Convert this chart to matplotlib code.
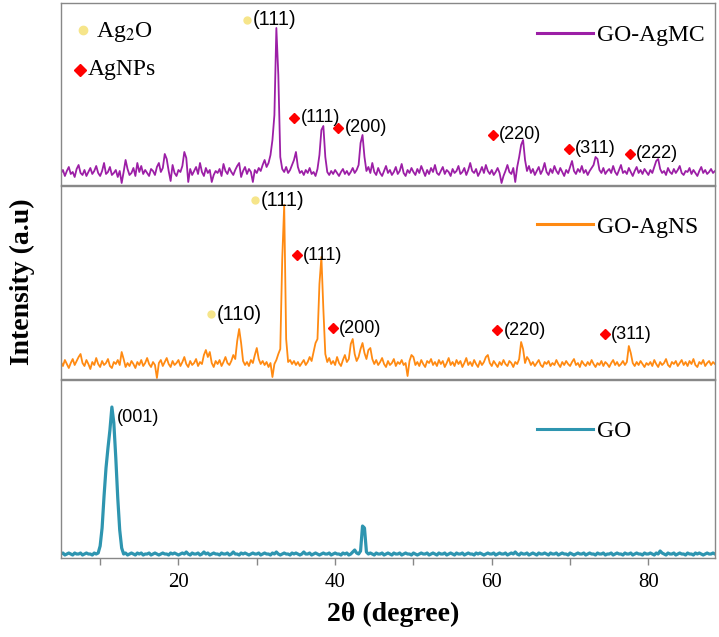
import numpy as np
import matplotlib.pyplot as plt
from matplotlib.lines import Line2D
from matplotlib.ticker import MultipleLocator

plt.rcParams['font.family'] = 'Liberation Serif'
plt.rcParams['mathtext.fontset'] = 'stix'

# 2theta scan, 5 - 88.5 deg in 0.25 deg steps
two_theta = np.arange(5.0, 88.51, 0.25)

agmc = [
    12, 15, 9, 14, 18, 11, 13, 8, 16, 20, 12, 10, 15, 9, 13, 17, 11, 14, 19, 12,
    9, 14, 22, 11, 13, 18, 10, 12, 15, 8, 14, 2, 13, 25, 16, 10, 12, 17, 9, 22,
    13, 19, 11, 15, 12, 9, 16, 14, 10, 18, 22, 13, 17, 31, 26, 14, 4, 20, 12, 9,
    15, 13, 19, 33, 27, 3, 16, 10, 14, 18, 11, 22, 13, 9, 17, 12, 15, 3, 10, 14,
    12, 16, 9, 21, 14, 11, 17, 13, 10, 15, 19, 22, 8, 14, 18, 11, 16, 13, 3, 15,
    12, 17, 14, 20, 25, 18, 22, 30, 45, 70, 157, 110, 28, 16, 13, 18, 12, 15, 20, 25,
    33, 18, 12, 14, 10, 15, 12, 17, 11, 13, 9, 16, 30, 55, 59, 28, 13, 10, 14, 11,
    15, 12, 9, 13, 16, 11, 14, 10, 13, 17, 12, 15, 20, 42, 50, 28, 14, 18, 12, 22,
    13, 10, 17, 12, 9, 14, 19, 12, 15, 10, 13, 18, 11, 14, 21, 12, 9, 15, 12, 17,
    13, 10, 16, 12, 19, 14, 9, 15, 11, 17, 13, 20, 12, 10, 14, 18, 11, 15, 13, 9,
    16, 12, 14, 19, 11, 13, 17, 10, 15, 22, 14, 12, 16, 9, 13, 18, 12, 20, 14, 11,
    15, 10, 13, 17, 12, 2, 9, 14, 20, 13, 11, 17, 3, 18, 28, 40, 45, 25, 14, 19,
    12, 16, 10, 14, 18, 11, 15, 22, 13, 10, 16, 12, 19, 14, 11, 17, 13, 9, 15, 12,
    18, 24, 14, 11, 16, 13, 19, 12, 15, 10, 14, 17, 20, 28, 26, 15, 12, 17, 11, 14,
    16, 12, 19, 13, 10, 15, 20, 12, 14, 11, 17, 13, 9, 14, 18, 12, 15, 11, 16, 13,
    10, 15, 12, 18, 24, 26, 16, 12, 14, 10, 17, 13, 11, 16, 12, 15, 19, 12, 10, 14,
    13, 17, 11, 15, 12, 9, 14, 18, 12, 15, 11, 13, 16, 12, 14,
]

agns = [
    17, 13, 19, 15, 11, 16, 20, 14, 18, 22, 25, 16, 13, 19, 15, 10, 17, 14, 21, 15,
    12, 18, 14, 16, 20, 13, 11, 17, 15, 19, 14, 27, 20, 12, 16, 13, 18, 15, 11, 17,
    14, 19, 13, 16, 21, 15, 12, 17, 14, 1, 16, 19, 13, 17, 21, 15, 12, 18, 14, 16,
    19, 13, 17, 22, 15, 12, 18, 14, 16, 20, 13, 17, 15, 24, 29, 22, 27, 16, 12, 18,
    15, 19, 13, 17, 22, 16, 14, 18, 24, 20, 38, 50, 36, 18, 14, 17, 13, 19, 16, 24,
    31, 20, 15, 18, 14, 17, 12, 16, 2, 15, 19, 25, 30, 120, 174, 40, 17, 19, 15, 18,
    14, 17, 13, 16, 19, 14, 17, 22, 18, 27, 36, 40, 95, 122, 70, 25, 17, 21, 15, 18,
    14, 22, 16, 13, 19, 24, 17, 20, 35, 40, 25, 18, 22, 30, 36, 26, 20, 29, 31, 20,
    15, 19, 14, 17, 21, 15, 12, 18, 14, 16, 20, 13, 17, 15, 19, 14, 16, 3, 18, 24,
    22, 14, 17, 13, 19, 15, 12, 18, 16, 20, 14, 17, 13, 19, 15, 18, 12, 16, 21, 14,
    17, 13, 19, 15, 18, 12, 16, 21, 14, 17, 13, 19, 15, 12, 18, 14, 17, 22, 24, 16,
    13, 18, 15, 12, 17, 14, 19, 15, 13, 18, 16, 12, 17, 15, 20, 37, 30, 16, 22, 19,
    14, 17, 13, 16, 19, 14, 12, 17, 15, 18, 13, 16, 14, 19, 15, 12, 17, 14, 18, 15,
    13, 17, 20, 14, 16, 12, 18, 15, 13, 17, 14, 19, 15, 12, 16, 14, 18, 13, 17, 15,
    12, 16, 19, 14, 17, 13, 15, 18, 14, 17, 33, 26, 16, 13, 17, 14, 18, 15, 12, 16,
    14, 17, 13, 19, 15, 12, 17, 14, 16, 20, 14, 12, 17, 15, 18, 13, 16, 19, 14, 17,
    13, 18, 15, 20, 14, 12, 17, 15, 19, 13, 16, 18, 14, 17, 15,
]

go = [
    4, 5, 3, 4, 5, 4, 3, 5, 4, 4, 5, 3, 4, 5, 4, 4, 3, 5, 4, 5,
    12, 30, 62, 90, 110, 128, 151, 135, 100, 60, 28, 10, 4, 5, 3, 4, 5, 4, 3, 5,
    4, 5, 3, 4, 4, 5, 3, 4, 5, 4, 3, 4, 5, 4, 4, 3, 5, 4, 5, 4,
    3, 4, 5, 4, 6, 4, 3, 5, 4, 4, 5, 3, 4, 6, 4, 5, 3, 4, 5, 4,
    4, 3, 5, 4, 4, 5, 3, 4, 6, 4, 4, 3, 5, 4, 5, 4, 3, 4, 5, 4,
    4, 5, 3, 4, 5, 4, 4, 3, 5, 4, 6, 4, 3, 4, 5, 4, 4, 3, 5, 4,
    5, 4, 3, 4, 6, 4, 4, 5, 3, 4, 5, 4, 3, 4, 5, 4, 4, 5, 3, 4,
    5, 4, 4, 3, 5, 4, 5, 3, 4, 6, 8, 5, 4, 7, 32, 30, 6, 4, 5, 4,
    3, 5, 4, 4, 5, 3, 4, 5, 4, 3, 5, 4, 4, 5, 3, 4, 5, 4, 4, 3,
    5, 4, 3, 4, 5, 4, 4, 5, 3, 4, 5, 4, 3, 5, 4, 4, 5, 3, 4, 5,
    4, 3, 5, 4, 4, 5, 3, 4, 5, 4, 4, 3, 5, 4, 5, 4, 3, 4, 5, 4,
    4, 5, 3, 4, 5, 4, 4, 5, 3, 4, 5, 4, 6, 4, 3, 5, 4, 4, 5, 3,
    4, 5, 4, 3, 5, 4, 4, 5, 4, 3, 5, 4, 4, 5, 3, 4, 5, 4, 4, 3,
    5, 4, 3, 4, 5, 4, 4, 5, 3, 4, 5, 4, 4, 3, 5, 4, 4, 5, 3, 4,
    4, 5, 3, 4, 5, 4, 4, 3, 5, 4, 4, 5, 3, 4, 5, 4, 4, 3, 5, 4,
    4, 5, 4, 3, 5, 4, 7, 5, 4, 3, 5, 4, 4, 5, 3, 4, 5, 4, 4, 3,
    5, 4, 4, 3, 5, 4, 5, 4, 3, 4, 5, 4, 4, 5, 4,
]

# peak labels: (2theta, intensity, hkl, phase)
agmc_peaks = [
    (28.8, 165, '(111)', 'Ag2O'),
    (34.8, 67, '(111)', 'Ag'),
    (40.4, 57, '(200)', 'Ag'),
    (60.1, 50, '(220)', 'Ag'),
    (69.8, 36, '(311)', 'Ag'),
    (77.6, 31, '(222)', 'Ag'),
]
agns_peaks = [
    (29.8, 179, '(111)', 'Ag2O'),
    (35.1, 124, '(111)', 'Ag'),
    (24.2, 65, '(110)', 'Ag2O'),
    (39.7, 51, '(200)', 'Ag'),
    (60.7, 49, '(220)', 'Ag'),
    (74.4, 45, '(311)', 'Ag'),
]
go_peaks = [
    (12.2, 141, '(001)', None),
]

ag2o_color = '#f6e58a'
ag_color = '#ff0000'

fig = plt.figure(figsize=(7.19, 6.37), dpi=100)

panels = [
    (agmc, '#9c1fa6', 1.3, 'GO-AgMC', agmc_peaks, [0.0848, 0.7096, 0.9096, 0.2857], 182, 0.824),
    (agns, '#ff8a12', 1.3, 'GO-AgNS', agns_peaks, [0.0848, 0.4050, 0.9096, 0.3030], 193, 0.788),
    (go, '#2e95b0', 2.3, 'GO', go_peaks, [0.0848, 0.1240, 0.9096, 0.2794], 178, 0.713),
]

axes = []
for vals, color, lw, name, peaks, rect, ytop, leg_y in panels:
    ax = fig.add_axes(rect)
    ax.plot(two_theta, vals, color=color, lw=lw)
    ax.set_xlim(5, 88.5)
    ax.set_ylim(0, ytop)
    ax.set_yticks([])
    ax.xaxis.set_major_locator(MultipleLocator(20))
    ax.xaxis.set_minor_locator(MultipleLocator(10))
    ax.tick_params(axis='x', which='both', direction='out', length=5,
                   width=1, color='#888888', labelsize=15, pad=6)
    ax.tick_params(axis='x', which='minor', labelbottom=False)
    for sp in ax.spines.values():
        sp.set_color('#888888')
        sp.set_linewidth(1.0)

    for x, y, txt, phase in peaks:
        if phase == 'Ag2O':
            ax.plot(x, y, 'o', ms=5, color=ag2o_color, mec=ag2o_color)
            fs, off = 14.5, 4
        elif phase == 'Ag':
            ax.plot(x, y, 'D', ms=5, color=ag_color, mec=ag_color)
            fs, off = 13, 4.5
        else:
            fs, off = 13, 0
        ax.annotate(txt, (x, y), xytext=(off, 0), textcoords='offset points',
                    ha='left', va='center', fontsize=fs, family='Liberation Sans')

    handle = Line2D([], [], color=color, lw=2.2)
    ax.legend([handle], [name], loc='center left', bbox_to_anchor=(0.728, leg_y),
              frameon=False, fontsize=17, handlelength=2.35, handletextpad=0.2,
              borderpad=0, borderaxespad=0)
    axes.append(ax)

for ax in axes[:-1]:
    ax.tick_params(axis='x', which='both', labelbottom=False)

# phase key in the top panel
top = axes[0]
top.plot(0.034, 0.852, 'o', ms=6, color=ag2o_color, mec=ag2o_color, transform=top.transAxes)
top.text(0.053, 0.84, r'Ag$_2$O', transform=top.transAxes, fontsize=17,
         ha='left', va='center')
top.plot(0.029, 0.632, 'D', ms=6.5, color=ag_color, mec=ag_color, transform=top.transAxes)
top.text(0.041, 0.632, 'AgNPs', transform=top.transAxes, fontsize=17,
         ha='left', va='center')

fig.text(22 / 719, 1 - 282 / 637, 'Intensity (a.u)', rotation=90, fontsize=20,
         fontweight='bold', ha='center', va='center')
fig.text(393 / 719, 1 - 614 / 637, '2θ (degree)', fontsize=20,
         fontweight='bold', ha='center', va='center')

fig.savefig('out.png', dpi=100)
